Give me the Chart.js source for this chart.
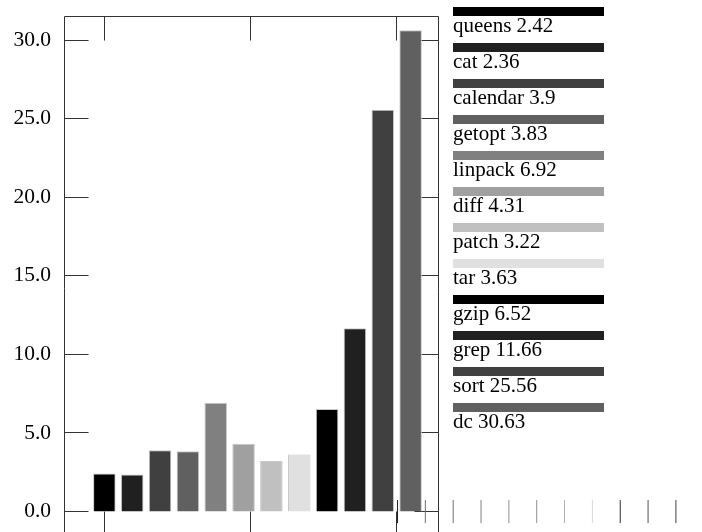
<!DOCTYPE html>
<html lang="en">
<head>
    <meta charset="UTF-8">
    <title>Run times</title>
    <script src="https://cdn.jsdelivr.net/npm/chart.js@4.4.0/dist/chart.umd.min.js"></script>
    <style>
        body{
            margin: 0;
            width: 702px;
            height: 532px;
            overflow: hidden;
            background: #fff;
            position: relative;
        }
        #chart{
            position: absolute;
            left: 0;
            top: 0;
        }
        .legend{
            position: absolute;
            left: 453px;
            top: 7px;
            font-family: 'Liberation Serif', 'Times New Roman', serif;
            font-size: 21px;
            color: #000;
        }
        .legend .item{
            height: 36px;
        }
        .legend .swatch{
            width: 151px;
            height: 9px;
        }
        .legend .txt{
            line-height: 20px;
            margin-top: -1px;
            white-space: nowrap;
        }
    </style>
</head>
<body>
    <canvas id="chart" width="702" height="560"></canvas>
    <div class="legend" id="legend"></div>

    <script>
        // benchmark names and their times
        const programs = ['queens', 'cat', 'calendar', 'getopt', 'linpack', 'diff', 'patch', 'tar', 'gzip', 'grep', 'sort', 'dc'];
        const times = [2.42, 2.36, 3.9, 3.83, 6.92, 4.31, 3.22, 3.63, 6.52, 11.66, 25.56, 30.63];
        const barColors = ['#000000', '#202020', '#404040', '#606060', '#808080', '#a0a0a0', '#c0c0c0', '#e0e0e0',
                           '#000000', '#202020', '#404040', '#606060'];

        // axis ticks
        const yTicks = [0, 5, 10, 15, 20, 25, 30];
        const xTicks = [0, 5.25, 10.5];

        // the stray little marks along the zero line at the bottom right
        const stubX = [10.53, 11.53, 12.53, 13.53, 14.53, 15.53, 16.53, 17.53, 18.53, 19.53, 20.53];
        const stubY = [0, 0, 0, 0, 0, 0, 0, 0, 0, 0, 0];
        const stubColors = ['#202020', '#707070', '#707070', '#808080', '#909090', '#909090', '#b0b0b0', '#d8d8d8',
                            '#303030', '#505050', '#404040'];

        const X_MIN = -1.45, X_MAX = 21.0, FRAME_RIGHT = 12.0;
        const Y_MIN = -2, Y_MAX = 31.53;
        const TICK = 24;

        // legend
        let html = '';
        programs.forEach((p, i) => {
            html += `
                <div class="item">
                    <div class="swatch" style="background:${barColors[i]}"></div>
                    <div class="txt">${p} ${times[i]}</div>
                </div>`;
        });
        document.getElementById('legend').innerHTML = html;

        function crisp(v){
            return Math.floor(v) + 0.5;
        }

        // frame + inward ticks, drawn under the bars
        const framePlugin = {
            id: 'frame',
            beforeDatasetsDraw(chart){
                const ctx = chart.ctx;
                const xs = chart.scales.x, ys = chart.scales.y;
                const left = crisp(chart.chartArea.left);
                const top = crisp(chart.chartArea.top);
                const bottom = chart.chartArea.bottom + 20;
                const right = crisp(xs.getPixelForValue(FRAME_RIGHT));
                ctx.save();
                ctx.strokeStyle = '#333';
                ctx.lineWidth = 1;
                ctx.beginPath();
                ctx.moveTo(left, bottom);
                ctx.lineTo(left, top);
                ctx.lineTo(right, top);
                ctx.lineTo(right, bottom);
                yTicks.forEach((v) => {
                    const y = crisp(ys.getPixelForValue(v));
                    ctx.moveTo(left, y);
                    ctx.lineTo(left + TICK, y);
                    ctx.moveTo(right - TICK, y);
                    ctx.lineTo(right, y);
                });
                const y0 = ys.getPixelForValue(0);
                xTicks.forEach((v) => {
                    const x = crisp(xs.getPixelForValue(v));
                    ctx.moveTo(x, top);
                    ctx.lineTo(x, top + TICK);
                    ctx.moveTo(x, y0);
                    ctx.lineTo(x, y0 + TICK);
                });
                ctx.stroke();
                ctx.restore();
            }
        };

        const ctx = document.getElementById('chart').getContext('2d');
        const chart = new Chart(ctx, {
            type: 'bar',
            data: {
                datasets: [
                    {
                        label: 'time',
                        data: times.map((t, i) => ({x: i, y: t})),
                        backgroundColor: barColors,
                        borderColor: '#c8c8c8',
                        borderWidth: 1,
                        barPercentage: 0.81,
                        categoryPercentage: 1.0
                    },
                    {
                        type: 'scatter',
                        label: 'stubs',
                        data: stubX.map((x, i) => ({x: x, y: stubY[i]})),
                        pointStyle: 'line',
                        pointRotation: 90,
                        pointRadius: 11.5,
                        pointBorderWidth: 1,
                        pointBorderColor: stubColors,
                        pointBackgroundColor: stubColors,
                        clip: false
                    }
                ]
            },
            options: {
                responsive: false,
                animation: false,
                devicePixelRatio: 1,
                layout: {
                    padding: {top: 16, right: 13, bottom: 17, left: 0}
                },
                plugins: {
                    legend: {display: false},
                    tooltip: {enabled: false}
                },
                scales: {
                    x: {
                        type: 'linear',
                        display: false,
                        min: X_MIN,
                        max: X_MAX,
                        offset: false
                    },
                    y: {
                        min: Y_MIN,
                        max: Y_MAX,
                        grid: {display: false, drawTicks: false},
                        border: {display: false},
                        afterBuildTicks: (scale) => {
                            scale.ticks = yTicks.map((v) => ({value: v}));
                        },
                        afterFit: (scale) => {
                            scale.width = 64;
                            scale.paddingTop = 0;
                            scale.paddingBottom = 0;
                        },
                        ticks: {
                            padding: 13,
                            color: '#000',
                            font: {family: "'Liberation Serif', serif", size: 21.5},
                            callback: (v) => Number(v).toFixed(1)
                        }
                    }
                }
            },
            plugins: [framePlugin]
        });
    </script>
</body>
</html>
